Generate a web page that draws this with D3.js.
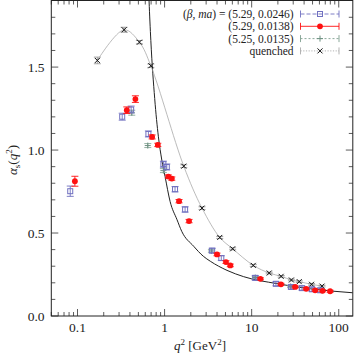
<!DOCTYPE html>
<html><head><meta charset="utf-8">
<script src="https://cdn.jsdelivr.net/npm/d3@7"></script>
<style>body{margin:0;background:#fff}svg{display:block}text{font-family:"Liberation Serif","DejaVu Serif",serif;fill:#222}</style>
</head><body><svg id="c" width="354" height="354"></svg>
<script>
// ---- data ----
const blueQ = [0.0825, 0.326, 0.413, 0.652, 0.969, 1.06, 1.318, 1.72, 3.52, 4.48, 11.0, 19.0, 28.4, 37.8, 49.2, 61.2];
const blueA = [0.752, 1.201, 1.244, 1.097, 0.915, 0.898, 0.764, 0.642, 0.394, 0.349, 0.230, 0.194, 0.175, 0.168, 0.161, 0.155];
const blueE = [0.025, 0.015, 0.015, 0.012, 0.012, 0.012, 0.01, 0.01, 0.008, 0.008, 0.008, 0.006, 0.006, 0.006, 0.006, 0.006];
const redQ = [0.0933, 0.368, 0.462, 0.719, 0.836, 1.105, 1.21, 1.466, 1.91, 4.0, 5.07, 5.68, 12.6, 21.7, 31.6, 42.3, 53.6, 65.2, 79.6];
const redA = [0.812, 1.240, 1.307, 1.079, 1.031, 0.840, 0.828, 0.692, 0.572, 0.371, 0.325, 0.305, 0.224, 0.191, 0.175, 0.164, 0.155, 0.152, 0.149];
const redE = [0.03, 0.02, 0.02, 0.012, 0.01, 0.01, 0.01, 0.01, 0.01, 0.008, 0.008, 0.008, 0.006, 0.006, 0.006, 0.006, 0.006, 0.006, 0.006];
const greenQ = [0.42, 0.641, 0.969, 3.45, 11.0, 28.0];
const greenA = [1.225, 1.027, 0.876, 0.392, 0.232, 0.178];
const greenE = [0.015, 0.012, 0.012, 0.008, 0.006, 0.006];
const quenchQ = [0.169, 0.343, 0.514, 0.695, 1.66, 2.69, 4.30, 6.05, 10.43, 15.9, 21.8, 28.6, 35.2, 48.7, 64.2];
const quenchA = [1.540, 1.725, 1.650, 1.508, 0.903, 0.650, 0.4735, 0.405, 0.305, 0.259, 0.239, 0.217, 0.207, 0.191, 0.180];
const quenchE = [0.02, 0.015, 0.01, 0.01, 0.008, 0.008, 0.006, 0.006, 0.006, 0.005, 0.005, 0.005, 0.005, 0.005, 0.005];
const pertQ = [0.626, 0.663, 0.695, 0.77, 0.849, 0.929, 1.013, 1.157, 1.39, 1.574, 2.16, 2.786, 3.35, 5.21, 8.09, 19.5, 47, 145];
const pertA = [2.3, 1.9, 1.66, 1.31, 1.08, 0.94, 0.84, 0.69, 0.58, 0.51, 0.42, 0.36, 0.33, 0.275, 0.237, 0.195, 0.164, 0.14];
const xTicks = [0.1, 1, 10, 100];
const xTickLabels = ["0.1", "1", "10", "100"];
const yTicks = [0.0, 0.5, 1.0, 1.5];
const yTickLabels = ["0.0", "0.5", "1.0", "1.5"];
const legendLabels = ["(5.29, 0.0246)", "(5.29, 0.0138)", "(5.25, 0.0135)", "quenched"];

// ---- layout ----
const L = 51.3, R = 352.8, T = 0.5, B = 316;
const x = d3.scaleLog().domain([0.05, 145]).range([L, R]);
const y = d3.scaleLinear().domain([0, 1.9]).range([B, T + 0.2]);
const svg = d3.select("#c");

const zip = (q, a, e) => q.map((v, i) => ({q: v, a: a[i], e: e ? e[i] : 0}));
const blue = zip(blueQ, blueA, blueE), red = zip(redQ, redA, redE),
      green = zip(greenQ, greenA, greenE), quench = zip(quenchQ, quenchA, quenchE),
      pert = zip(pertQ, pertA);

svg.append("defs").append("clipPath").attr("id", "clip")
  .append("rect").attr("x", L).attr("y", T).attr("width", R - L).attr("height", B - T);

// ticks (inward, mirrored)
const tg = svg.append("g").attr("stroke", "#333").attr("stroke-width", 0.8);
const minorX = [];
for (let d = -2; d <= 2; d++) for (let k = 1; k <= 9; k++) {
  const v = k * Math.pow(10, d);
  if (v >= 0.05 && v <= 145) minorX.push({v, major: k === 1});
}
minorX.forEach(t => {
  const len = t.major ? 7 : 4, px = x(t.v);
  tg.append("line").attr("x1", px).attr("x2", px).attr("y1", B).attr("y2", B - len);
  tg.append("line").attr("x1", px).attr("x2", px).attr("y1", T).attr("y2", T + len);
});
d3.range(0, 19).forEach(i => {
  const v = i / 10, major = i % 5 === 0, len = major ? 7 : 4, py = y(v);
  tg.append("line").attr("x1", L).attr("x2", L + len).attr("y1", py).attr("y2", py);
  tg.append("line").attr("x1", R).attr("x2", R - len).attr("y1", py).attr("y2", py);
});

// tick labels
xTicks.forEach((v, i) => svg.append("text").attr("x", x(v)).attr("y", 332)
  .attr("text-anchor", "middle").attr("font-size", 13.5).text(xTickLabels[i]));
yTicks.forEach((v, i) => svg.append("text").attr("x", 44.5).attr("y", y(v) + 4.6)
  .attr("text-anchor", "end").attr("font-size", 13.5).text(yTickLabels[i]));

// axis titles
const xt = svg.append("text").attr("x", 200).attr("y", 350).attr("text-anchor", "middle").attr("font-size", 13);
xt.append("tspan").attr("font-style", "italic").text("q");
xt.append("tspan").attr("font-size", 9).attr("dy", -5).text("2");
xt.append("tspan").attr("dy", 5).text(" [GeV");
xt.append("tspan").attr("font-size", 9).attr("dy", -5).text("2");
xt.append("tspan").attr("dy", 5).text("]");
const yt = svg.append("text").attr("transform", "translate(17,160) rotate(-90)").attr("text-anchor", "middle").attr("font-size", 13);
yt.append("tspan").attr("font-style", "italic").text("α");
yt.append("tspan").attr("font-size", 9).attr("dy", 3).text("s");
yt.append("tspan").attr("dy", -3).text("(");
yt.append("tspan").attr("font-style", "italic").text("q");
yt.append("tspan").attr("font-size", 9).attr("dy", -5).text("2");
yt.append("tspan").attr("dy", 5).text(")");

const plot = svg.append("g").attr("clip-path", "url(#clip)");

// perturbative curve
plot.append("path").datum(pert).attr("fill", "none").attr("stroke", "#222").attr("stroke-width", 1)
  .attr("d", d3.line().x(d => x(d.q)).y(d => y(d.a)).curve(d3.curveMonotoneX));
// quenched connecting curve
plot.append("path").datum(quench).attr("fill", "none").attr("stroke", "#aaa").attr("stroke-width", 0.8)
  .attr("d", d3.line().x(d => x(d.q)).y(d => y(d.a)).curve(d3.curveCatmullRom));

// marker drawing
const BLUE = "#7070c0", RED = "#ff1010", GREEN = "#6d9080", QC = "#111";
function errbar(g, px, y1, y2, col, dash) {
  const a = g.append("g").attr("stroke", col).attr("stroke-width", 0.9);
  a.append("line").attr("x1", px).attr("x2", px).attr("y1", y1).attr("y2", y2);
  a.append("line").attr("x1", px - 3.5).attr("x2", px + 3.5).attr("y1", y1).attr("y2", y1);
  a.append("line").attr("x1", px - 3.5).attr("x2", px + 3.5).attr("y1", y2).attr("y2", y2);
}
function marker(g, kind, px, py) {
  if (kind === "blue") g.append("rect").attr("x", px - 2.5).attr("y", py - 2.5).attr("width", 5).attr("height", 5)
    .attr("fill", "none").attr("stroke", BLUE).attr("stroke-width", 1);
  else if (kind === "red") g.append("circle").attr("cx", px).attr("cy", py).attr("r", 2.9).attr("fill", RED);
  else if (kind === "green") g.append("path").attr("d", `M${px-3},${py}H${px+3}M${px},${py-3}V${py+3}`)
    .attr("stroke", GREEN).attr("stroke-width", 1);
  else g.append("path").attr("d", `M${px-2.5},${py-2.5}L${px+2.5},${py+2.5}M${px-2.5},${py+2.5}L${px+2.5},${py-2.5}`)
    .attr("stroke", QC).attr("stroke-width", 1);
}
const ECOL = {blue: BLUE, red: RED, green: "#8aa89a", quench: "#999"};
[["quench", quench], ["green", green], ["blue", blue], ["red", red]].forEach(([k, data]) => {
  const g = plot.append("g");
  data.forEach(d => {
    errbar(g, x(d.q), y(d.a - d.e) + (k === "blue" ? 1 : 0), y(d.a + d.e) - (k === "blue" ? 1 : 0), ECOL[k]);
    marker(g, k, x(d.q), y(d.a));
  });
});

// frame
svg.append("rect").attr("x", L).attr("y", T).attr("width", R - L).attr("height", B - T)
  .attr("fill", "none").attr("stroke", "#222").attr("stroke-width", 1);

// legend
const lg = svg.append("g");
const kinds = ["blue", "red", "green", "quench"];
const lcol = [BLUE, RED, "#7f9f90", "#aaa"];
const ldash = ["4,2", null, "2,2", "1.2,1.5"];
kinds.forEach((k, i) => {
  const yy = 14 + i * 12.3;
  const t = lg.append("text").attr("x", 293.5).attr("y", yy + 4).attr("text-anchor", "end").attr("font-size", 11.5);
  if (i === 0) {
    t.append("tspan").text("(");
    t.append("tspan").attr("font-style", "italic").text("β");
    t.append("tspan").text(", ");
    t.append("tspan").attr("font-style", "italic").text("ma");
    t.append("tspan").text(") = " + legendLabels[0]);
  } else t.text(legendLabels[i]);
  const s = lg.append("g").attr("stroke", lcol[i]).attr("stroke-width", 0.9);
  s.append("line").attr("x1", 300.5).attr("x2", 339).attr("y1", yy).attr("y2", yy).attr("stroke-dasharray", ldash[i]);
  s.append("line").attr("x1", 300.5).attr("x2", 300.5).attr("y1", yy - 3.5).attr("y2", yy + 3.5);
  s.append("line").attr("x1", 339).attr("x2", 339).attr("y1", yy - 3.5).attr("y2", yy + 3.5);
  marker(lg, k, 320, yy);
});
</script></body></html>
